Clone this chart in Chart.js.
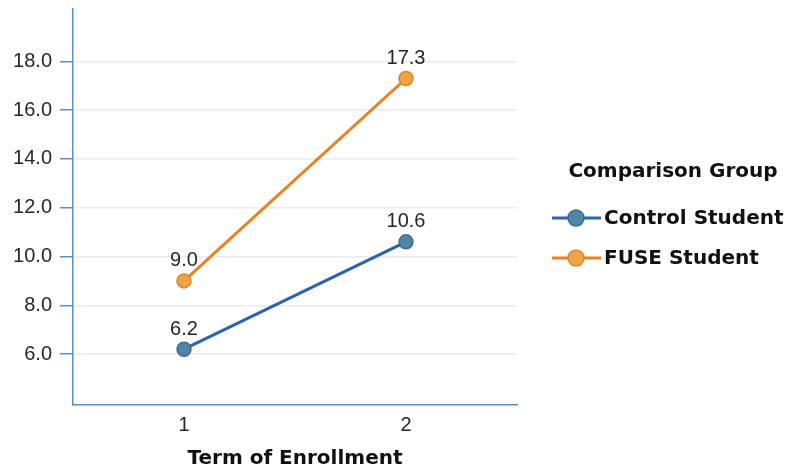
<!DOCTYPE html>
<html>
<head>
<meta charset="utf-8">
<script src="https://cdn.jsdelivr.net/npm/chart.js@4.4.1/dist/chart.umd.min.js"></script>
<style>
  body { margin: 0; background: #fff; }
  #wrap { width: 786px; height: 471px; }
</style>
</head>
<body>
<div id="wrap"><canvas id="mychart" width="786" height="471"></canvas></div>
<script>
// data
let terms = [1, 2];
let controlValues = [6.2, 10.6];
let fuseValues = [9.0, 17.3];
let yTicks = [6, 8, 10, 12, 14, 16, 18];
let seriesNames = ['Control Student', 'FUSE Student'];
let legendTitle = 'Comparison Group';
let xTitle = 'Term of Enrollment';

const axisBlue = '#5a8fcb';
const labelFont = '"Liberation Sans", Arial, sans-serif';

function toPoints(vals) {
    return terms.map((t, i) => ({x: t, y: vals[i]}));
}

// value labels above each point
const valueLabels = {
    id: 'valueLabels',
    afterDatasetsDraw(chart) {
        const ctx = chart.ctx;
        ctx.save();
        ctx.font = '20px ' + labelFont;
        ctx.fillStyle = '#262626';
        ctx.textAlign = 'center';
        ctx.textBaseline = 'bottom';
        chart.data.datasets.forEach((ds, i) => {
            chart.getDatasetMeta(i).data.forEach((pt, j) => {
                ctx.fillText(ds.data[j].y.toFixed(1), pt.x, pt.y - 10);
            });
        });
        ctx.restore();
    }
};

// legend on the right: line + marker symbol
const sideLegend = {
    id: 'sideLegend',
    afterDraw(chart) {
        const ctx = chart.ctx;
        ctx.save();
        ctx.font = 'bold 20px "DejaVu Sans", sans-serif';
        ctx.fillStyle = '#111';
        ctx.textAlign = 'center';
        ctx.textBaseline = 'middle';
        ctx.fillText(legendTitle, 673, 172);
        ctx.textAlign = 'left';
        chart.data.datasets.forEach((ds, i) => {
            let y = 218 + i * 40;
            ctx.strokeStyle = ds.borderColor;
            ctx.lineWidth = 3;
            ctx.beginPath();
            ctx.moveTo(552, y);
            ctx.lineTo(601, y);
            ctx.stroke();
            ctx.beginPath();
            ctx.arc(576, y, 8, 0, Math.PI * 2);
            ctx.fillStyle = ds.pointBackgroundColor;
            ctx.fill();
            ctx.lineWidth = 1.5;
            ctx.strokeStyle = ds.pointBorderColor;
            ctx.stroke();
            ctx.fillStyle = '#111';
            ctx.fillText(ds.label, 604, y + 1);
        });
        ctx.restore();
    }
};

var ctx = document.getElementById('mychart').getContext('2d');
var chart = new Chart(ctx, {
    type: 'line',
    data: {
        datasets: [{
            label: seriesNames[0],
            data: toPoints(controlValues),
            borderColor: '#2a62ad',
            borderWidth: 3,
            pointRadius: 7,
            pointBackgroundColor: '#4f86a8',
            pointBorderColor: '#3b6d92',
            pointBorderWidth: 1.5
        }, {
            label: seriesNames[1],
            data: toPoints(fuseValues),
            borderColor: '#e8821e',
            borderWidth: 3,
            pointRadius: 7,
            pointBackgroundColor: '#eda443',
            pointBorderColor: '#d48a2c',
            pointBorderWidth: 1.5
        }]
    },
    options: {
        responsive: false,
        animation: false,
        devicePixelRatio: 1,
        layout: { padding: { left: 0, right: 269, top: 8, bottom: 0 } },
        plugins: {
            legend: { display: false },
            tooltip: { enabled: false }
        },
        scales: {
            x: {
                type: 'linear',
                min: 0.5,
                max: 2.5,
                afterBuildTicks: (scale) => { scale.ticks = terms.map(v => ({value: v})); },
                afterFit: (scale) => { scale.height = 66; scale.paddingLeft = 0; scale.paddingRight = 0; },
                grid: { drawOnChartArea: false, drawTicks: false },
                border: { display: true, color: axisBlue, width: 1.5 },
                ticks: {
                    padding: 8,
                    color: '#262626',
                    font: { family: labelFont, size: 20 }
                },
                title: {
                    display: true,
                    text: xTitle,
                    color: '#111',
                    padding: { top: 4, bottom: 0 },
                    font: { family: '"DejaVu Sans", sans-serif', size: 20, weight: 'bold' }
                }
            },
            y: {
                min: 3.91,
                max: 20.17,
                afterBuildTicks: (scale) => { scale.ticks = yTicks.map(v => ({value: v})); },
                afterFit: (scale) => { scale.width = 73; scale.paddingTop = 0; scale.paddingBottom = 0; },
                grid: { color: '#e8ebf2', tickColor: axisBlue, tickLength: 13, lineWidth: 1.5 },
                border: { display: true, color: axisBlue, width: 1.5 },
                ticks: {
                    padding: 8,
                    color: '#262626',
                    font: { family: labelFont, size: 20 },
                    callback: (v) => v.toFixed(1)
                }
            }
        }
    },
    plugins: [valueLabels, sideLegend]
});
</script>
</body>
</html>
